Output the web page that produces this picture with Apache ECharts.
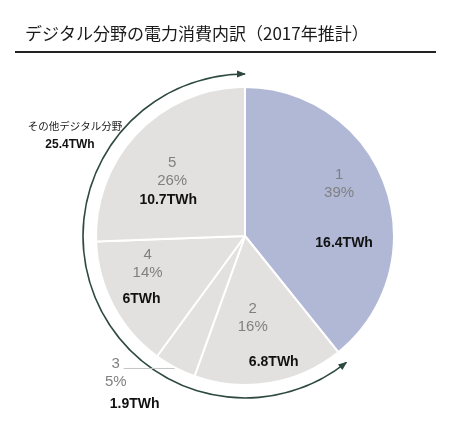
<!DOCTYPE html>
<html lang="ja">
<head>
<meta charset="UTF-8">
<meta name="viewport" content="width=device-width, initial-scale=1.0">
<title>デジタル分野の電力消費内訳（2017年推計）</title>
<style>
  body { margin: 0; background: #fff; }
  #chart { width: 453px; height: 440px; }
</style>
</head>
<body>
<div id="chart"></div>
<script src="https://cdn.jsdelivr.net/npm/echarts@6/dist/echarts.min.js"></script>
<script>
// slices, clockwise from 12 o'clock
const sliceNames = ['1', '2', '3', '4', '5'];
const sliceShares = [39, 16, 5, 14, 26];        // % as printed
const sliceTWh = [16.4, 6.8, 1.9, 6, 10.7];     // TWh
const groupLabel = 'その他デジタル分野';           // slices 2-5

const chart = echarts.init(document.getElementById('chart'));

const CX = 245, CY = 236, R = 149, R_ARC = 162;
const BLUE = '#b0b8d6', GREY = '#e2e1df', ARC = '#2e4a3f';
const NUM_FONT = '"Liberation Sans", Arial, sans-serif';
const JP_FONT = '"Noto Sans CJK JP", sans-serif';

// nudges from the default inside label spot
const pctNudge = [[21, -26], [-5, 5], null, [-29, -9], [-17, -10]];
const twhNudge = [[26, 33], [16, 50], [-74, 100], [-35, 27], [-21, 18]];

const total = sliceTWh.reduce((a, b) => a + b, 0);
const otherTotal = total - sliceTWh[0];

function arrowHead(thetaDeg, dir) {
    const t = thetaDeg * Math.PI / 180;
    const px = CX + R_ARC * Math.sin(t), py = CY - R_ARC * Math.cos(t);
    const ux = Math.cos(t) * dir, uy = Math.sin(t) * dir;
    const L = 9, W = 3.5;
    const tip = [px + ux, py + uy];
    const bx = tip[0] - ux * L, by = tip[1] - uy * L;
    return {
        type: 'polygon', silent: true,
        shape: { points: [tip, [bx - uy * W, by + ux * W], [bx + uy * W, by - ux * W]] },
        style: { fill: ARC }
    };
}

const pieData = sliceNames.map((n, i) => {
    const item = { name: n, value: sliceTWh[i], itemStyle: { color: i === 0 ? BLUE : GREY } };
    if (i === 2) {
        item.label = { position: 'outside', padding: [9, 0, 0, 0], distanceToLabelLine: -3 };
        item.labelLine = { show: true, length: 1, length2: 51, lineStyle: { color: '#c4c4c4', width: 1 } };
    }
    return item;
});

const option = {
    animation: false,
    title: {
        text: 'デジタル分野の電力消費内訳（2017年推計）',
        left: 25, top: 25, padding: 0,
        textStyle: { fontSize: 17, fontWeight: 'normal', color: '#1a1a1a', fontFamily: JP_FONT }
    },
    graphic: [
        { type: 'line', silent: true, shape: { x1: 15, y1: 52, x2: 436, y2: 52 },
          style: { stroke: '#222', lineWidth: 2 } },
        { type: 'text', silent: true, x: 75, y: 126,
          style: { text: groupLabel, fontSize: 10.5, fontFamily: JP_FONT, fill: '#222',
                   align: 'center', verticalAlign: 'middle' } },
        { type: 'text', silent: true, x: 70, y: 145,
          style: { text: otherTotal.toFixed(1) + 'TWh', fontSize: 12, fontWeight: 'bold',
                   fontFamily: NUM_FONT, fill: '#111', align: 'center', verticalAlign: 'middle' } },
        arrowHead(0, 1),
        arrowHead(360 * sliceTWh[0] / total, -1)
    ],
    series: [
        {
            // bracket arc round slices 2-5
            type: 'pie', silent: true, z: 1,
            center: [CX, CY], radius: [R_ARC - 0.8, R_ARC + 0.8],
            label: { show: false }, labelLine: { show: false },
            itemStyle: { borderWidth: 0 },
            data: [
                { value: sliceTWh[0], itemStyle: { color: 'transparent' } },
                { value: otherTotal, itemStyle: { color: ARC } }
            ]
        },
        {
            type: 'pie', silent: true, z: 2,
            center: [CX, CY], radius: [0, R],
            avoidLabelOverlap: false,
            itemStyle: { borderColor: '#fff', borderWidth: 2 },
            label: {
                show: true, position: 'inside',
                formatter: p => `{n|${p.name}}\n{p|${sliceShares[p.dataIndex]}%}`,
                rich: {
                    n: { fontSize: 15, lineHeight: 18, color: '#808080', fontFamily: NUM_FONT, align: 'center' },
                    p: { fontSize: 15, lineHeight: 18, color: '#808080', fontFamily: NUM_FONT, align: 'center' }
                }
            },
            labelLine: { show: false },
            labelLayout: p => {
                const d = pctNudge[p.dataIndex];
                return d ? { dx: d[0], dy: d[1] } : {};
            },
            data: pieData
        },
        {
            // TWh labels
            type: 'pie', silent: true, z: 3,
            center: [CX, CY], radius: [0, R],
            avoidLabelOverlap: false,
            itemStyle: { color: 'transparent', borderWidth: 0 },
            label: {
                show: true, position: 'inside',
                formatter: p => p.value + 'TWh',
                fontSize: 14, fontWeight: 'bold', color: '#111', fontFamily: NUM_FONT
            },
            labelLine: { show: false },
            labelLayout: p => {
                const d = twhNudge[p.dataIndex];
                return { dx: d[0], dy: d[1] };
            },
            data: sliceNames.map((n, i) => ({ name: n, value: sliceTWh[i] }))
        }
    ]
};

chart.setOption(option);
</script>
</body>
</html>
